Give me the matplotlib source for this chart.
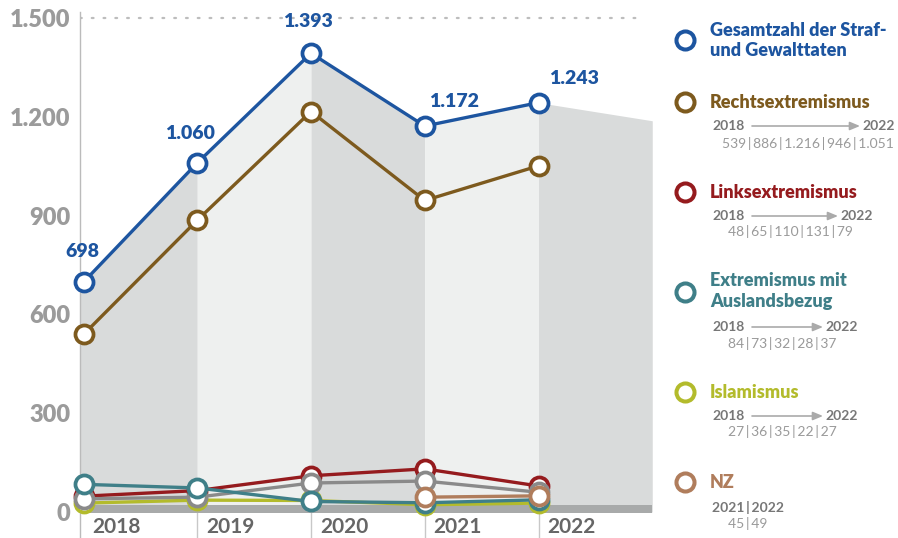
import matplotlib
matplotlib.use("Agg")
import matplotlib.pyplot as plt
import numpy as np

plt.rcParams['font.family'] = ['Lato', 'DejaVu Sans']

# ---------------- data ----------------
years = ["2018", "2019", "2020", "2021", "2022"]
total = [698, 1060, 1393, 1172, 1243]
rechts = [539, 886, 1216, 946, 1051]
links = [48, 65, 110, 131, 79]
ausland = [84, 73, 32, 28, 37]
islam = [27, 36, 35, 22, 27]
sonstige = [40, 45, 88, 94, 60]
nz_years = ["2021", "2022"]
nz = [45, 49]
total_label = ["698", "1.060", "1.393", "1.172", "1.243"]
rechts_label = ["539", "886", "1.216", "946", "1.051"]
band_end_value = 1188
yticks = [0, 300, 600, 900, 1200, 1500]
yticklabels = ["0", "300", "600", "900", "1.200", "1.500"]

# ---------------- style ----------------
C_TOTAL = "#1d55a0"
C_RECHTS = "#7d5a1e"
C_LINKS = "#951b1e"
C_AUS = "#3f7f88"
C_ISL = "#b3bb2c"
C_NZ = "#b07d5c"
C_GREY = "#8a8a8a"
DARK_BAND = "#d9dbdb"
LIGHT_BAND = "#eef0ef"

W, H = 898, 538
fig = plt.figure(figsize=(W / 100, H / 100), dpi=100)

PX_PER_X = 113.75
X0_PX = 83.5
PX_PER_Y = 494 / 1500
ZERO_PX = 512

def px2x(p):
    return (p - X0_PX) / PX_PER_X

def py2y(p):
    return (ZERO_PX - p) / PX_PER_Y

ax = fig.add_axes([80 / W, 0, (660 - 80) / W, 1])
xmin, xmax = px2x(80), px2x(660)
ymin, ymax = py2y(538), py2y(0)
ax.set_xlim(xmin, xmax)
ax.set_ylim(ymin, ymax)
ax.set_facecolor("none")
for s in ["top", "right", "bottom"]:
    ax.spines[s].set_visible(False)
ax.spines["left"].set_color("#bbbbbb")
ax.spines["left"].set_linewidth(1)
ax.spines["left"].set_bounds(ymin, py2y(12))
ax.set_xticks([])
ax.set_yticks(yticks)
ax.set_yticklabels(yticklabels, fontsize=17, fontweight="heavy", color="#9b9b9b")
ax.tick_params(axis="y", length=0, pad=7)

xs = np.arange(len(years))

# background bands under total line
ext_x = list(xs) + [len(years)]
ext_y = list(total) + [band_end_value]
for i in range(len(ext_x) - 1):
    color = DARK_BAND if i % 2 == 0 else LIGHT_BAND
    xa = ext_x[i] if i > 0 else xmin
    ya = ext_y[i] if i > 0 else ext_y[0] + (ext_y[1] - ext_y[0]) * (xmin - ext_x[0])
    ax.fill_between([xa, ext_x[i + 1]], [0, 0], [ya, ext_y[i + 1]],
                    color=color, lw=0, zorder=1)

# baseline bar
ax.fill_between([xmin, len(years)], [-3, -3], [22, 22], color="#a8aaaa", lw=0, zorder=2)

# dotted top gridline
ax.plot([xmin, px2x(640)], [1500, 1500], color="#bdbdbd", lw=1.6,
        linestyle=(0, (0.8, 4.5)), dash_capstyle="round", zorder=1)

# separators below baseline
for i in range(1, len(years)):
    ax.plot([i, i], [0, ymin], color="#c8c8c8", lw=1, zorder=1, clip_on=False)

# year labels
for i, y in enumerate(years):
    ax.text(i + 0.29, py2y(527), y, ha="center", va="center", fontsize=15,
            color="#666666", fontweight="bold")

def series(xv, yv, color, z):
    ax.plot(xv, yv, color=color, lw=2.4, zorder=z, marker="o", markersize=13,
            markerfacecolor="white", markeredgecolor=color, markeredgewidth=2.7,
            clip_on=False, solid_capstyle="round")

series(xs, islam, C_ISL, 5)
series(xs, links, C_LINKS, 6)
series(xs, sonstige, C_GREY, 7)
series(xs, ausland, C_AUS, 8)
series([years.index(y) for y in nz_years], nz, C_NZ, 9)
series(xs, rechts, C_RECHTS, 10)
series(xs, total, C_TOTAL, 11)

# total value labels
offsets_px = [(-1, 31), (-7, 29), (-3, 32), (29, 25), (35, 24)]
for i, (lab, off) in enumerate(zip(total_label, offsets_px)):
    ax.annotate(lab, (i, total[i]), xytext=(off[0] * 0.72, off[1] * 0.72),
                textcoords="offset points", ha="center", va="center",
                fontsize=14, fontweight="heavy", color=C_TOTAL, zorder=12,
                annotation_clip=False)

# ---------------- legend (pixel overlay) ----------------
lax = fig.add_axes([0, 0, 1, 1])
lax.set_xlim(0, W)
lax.set_ylim(H, 0)
lax.axis("off")
lax.patch.set_alpha(0)

MX, TX = 685, 710
TFS = 13
SFS = 10
SUBC = "#777777"
NUMC = "#9a9a9a"
SEP = "\u2009|\u2009"

def legend_marker(y, color):
    lax.plot([MX], [y], marker="o", markersize=13, markerfacecolor="white",
             markeredgecolor=color, markeredgewidth=2.9)

def sub_line(y, arrow_end, num_x, num_y, nums):
    lax.text(TX + 2, y, "2018", fontsize=SFS, fontweight="bold", color=SUBC,
             ha="left", va="center")
    lax.annotate("", xy=(arrow_end, y), xytext=(752, y),
                 arrowprops=dict(arrowstyle="-|>,head_length=0.6,head_width=0.25",
                                 color="#aaaaaa", lw=1.2, shrinkA=0, shrinkB=0))
    lax.text(arrow_end + 2, y, "2022", fontsize=SFS, fontweight="bold", color=SUBC,
             ha="left", va="center")
    lax.text(num_x, num_y, SEP.join(nums), fontsize=SFS, color=NUMC,
             ha="left", va="center")

def title(y, txt, color):
    lax.text(TX, y, txt, fontsize=TFS, fontweight="heavy", color=color,
             ha="left", va="center")

# Gesamtzahl
legend_marker(40, C_TOTAL)
title(30, "Gesamtzahl der Straf-", C_TOTAL)
title(51, "und Gewalttaten", C_TOTAL)

# Rechtsextremismus
legend_marker(102, C_RECHTS)
title(102, "Rechtsextremismus", C_RECHTS)
sub_line(126, 860, 722, 143, rechts_label)

# Linksextremismus
legend_marker(192, C_LINKS)
title(192, "Linksextremismus", C_LINKS)
sub_line(216, 838, 728, 232, [str(v) for v in links])

# Ausland
legend_marker(292, C_AUS)
title(280, "Extremismus mit", C_AUS)
title(302, "Auslandsbezug", C_AUS)
sub_line(327, 823, 728, 344, [str(v) for v in ausland])

# Islamismus
legend_marker(392, C_ISL)
title(392, "Islamismus", C_ISL)
sub_line(416, 823, 728, 432, [str(v) for v in islam])

# NZ
legend_marker(482, C_NZ)
title(482, "NZ", C_NZ)
lax.text(TX + 2, 507, "\u2009|\u2009".join(nz_years), fontsize=SFS, fontweight="bold",
         color=SUBC, ha="left", va="center")
lax.text(728, 523, SEP.join(str(v) for v in nz), fontsize=SFS, color=NUMC,
         ha="left", va="center")

fig.savefig("out.png", dpi=100)
